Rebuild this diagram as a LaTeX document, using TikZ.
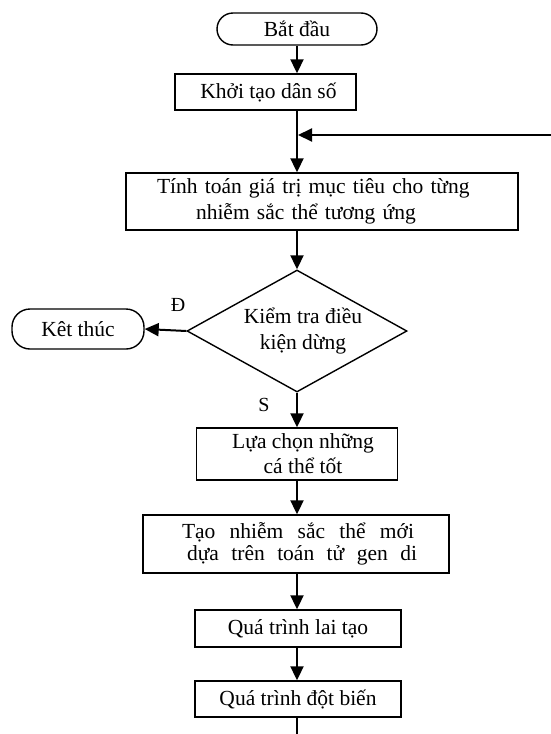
\documentclass[tikz,border=0pt]{standalone}
\usepackage{fontspec}
\setmainfont{Liberation Serif}
\usetikzlibrary{arrows.meta,shapes.geometric}
\begin{document}
\begin{tikzpicture}[x=1pt,y=-1pt,
  box/.style={draw,line width=1.4pt,inner sep=0pt,font=\fontsize{21.5}{26}\selectfont,align=center},
  term/.style={box,rounded corners=16pt},
  arr/.style={line width=2pt,-{Triangle[width=13pt,length=14pt]}},
  ln/.style={line width=2pt},
  lbl/.style={font=\fontsize{20}{24}\selectfont,inner sep=0pt}]
\useasboundingbox (0,0) rectangle (551,734);
\node[term,minimum width=160pt,minimum height=32pt] (start) at (297,29) {Bắt đầu};
\node[box,minimum width=181pt,minimum height=36pt] (khoi) at (265.5,92) {\hspace*{6pt}Khởi tạo dân số};
\node[box,text width=392pt,minimum height=57pt,align=left] (tinh) at (322,201.5)
  {\hspace*{31pt}Tính toán giá trị mục tiêu cho từng\\\hspace*{70pt}nhiễm sắc thể tương ứng};
\node[draw,diamond,line width=1.4pt,minimum width=220pt,minimum height=122pt,aspect=1.8,inner sep=0pt,
  align=center,font=\fontsize{21.5}{26}\selectfont] (dec) at (297,331) {\hspace*{12pt}Kiểm tra điều\\\hspace*{12pt}kiện dừng};
\node[term,rounded corners=18pt,minimum width=132pt,minimum height=40pt] (ket) at (78,329) {Kêt thúc};
\node[box,minimum width=201pt,minimum height=52pt,font=\fontsize{21.5}{25}\selectfont] (lua) at (297,454)
  {\hspace*{12pt}Lựa chọn những\\\hspace*{12pt}cá thể tốt};
\node[box,text width=306pt,minimum height=58pt,align=left,font=\fontsize{21.5}{22}\selectfont] (tao) at (296,544)
  {\hspace*{39pt}\makebox[232pt]{Tạo\hfill nhiễm\hfill sắc\hfill thể\hfill mới}\\\hspace*{44pt}\makebox[230pt]{dựa\hfill trên\hfill toán\hfill tử\hfill gen\hfill di}};
\node[box,minimum width=206pt,minimum height=37pt] (lai) at (298,628.5) {Quá trình lai tạo};
\node[box,minimum width=206pt,minimum height=36pt] (dot) at (298,699) {Quá trình đột biến};
\node[lbl] (yes) at (178,305) {Đ};
\node[lbl] (no) at (264,405) {S};
\coordinate (j) at (298,135);
\coordinate (fb) at (551,135);
\coordinate (bot) at (297,734);
\draw[arr] (start) -- (start |- khoi.north);
\draw[arr] (khoi.south -| start) -- (start |- tinh.north);
\draw[arr] (fb) -- (j);
\draw[arr] (tinh.south -| start) -- (dec.north);
\draw[arr] (dec.west) -- (ket.east);
\draw[arr] (dec.south) -- (lua.north -| dec.south);
\draw[arr] (lua.south -| dec) -- (tao.north -| dec);
\draw[arr] (tao.south -| dec) -- (lai.north -| dec);
\draw[arr] (lai.south -| dec) -- (dot.north -| dec);
\draw[ln] (dot.south -| dec) -- (bot);
\end{tikzpicture}
\end{document}
